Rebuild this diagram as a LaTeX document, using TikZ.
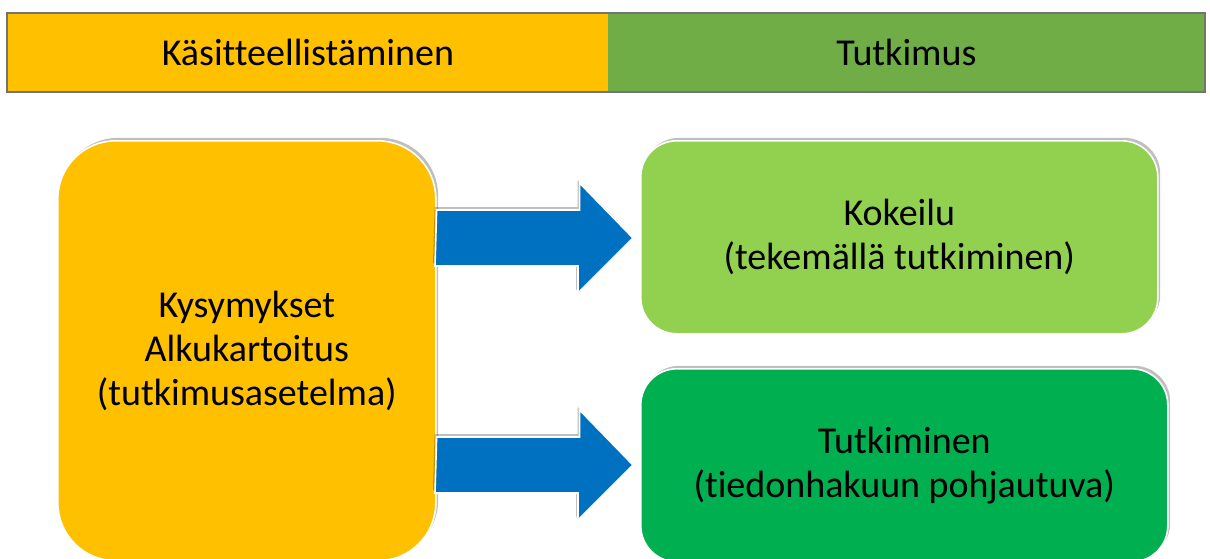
\documentclass[tikz,border=0pt]{standalone}
\usepackage{fontspec}
\setmainfont{Carlito}[Ligatures=NoCommon]
\usetikzlibrary{shadows,calc}

\definecolor{kasyellow}{HTML}{FFC000}
\definecolor{bargreen}{HTML}{70AD47}
\definecolor{lightgreen}{HTML}{92D050}
\definecolor{darkgreen}{HTML}{00B050}
\definecolor{arrowblue}{HTML}{0070C0}

\begin{document}
\begin{tikzpicture}[x=0.5pt,y=-0.5pt,
  txt/.style={font=\fontsize{19}{22}\selectfont, align=center, text=black},
  barcell/.style={txt, fill=#1, anchor=north west, inner sep=0pt, minimum height=39pt},
  box/.style={txt, fill=#1, draw=white, line width=0.8pt, anchor=north west, inner sep=0pt,
    drop shadow={shadow xshift=1.2pt, shadow yshift=1.5pt, opacity=0.25, fill=black}},
  bigarrow/.style={fill=arrowblue, draw=white, line width=0.8pt,
    drop shadow={shadow xshift=-1pt, shadow yshift=1.5pt, opacity=0.25, fill=black}}]
  \useasboundingbox (0,0) rectangle (1210,558);

  % Top bar
  \node[barcell=kasyellow, minimum width=300.5pt] (kas) at (7,13) {Käsitteellistäminen};
  \node[barcell=bargreen, minimum width=298pt] (tutk) at (608,13) {Tutkimus};
  \draw[gray!90!black, line width=1pt] (kas.north west) rectangle (tutk.south east);

  % Boxes
  \node[box=kasyellow, rounded corners=29pt, minimum width=189pt, minimum height=210pt] (kys) at (57,140)
    {Kysymykset\\Alkukartoitus\\(tutkimusasetelma)};
  \node[box=lightgreen, rounded corners=18pt, minimum width=258.5pt, minimum height=96.5pt] (kok) at (640,140)
    {Kokeilu\\(tekemällä tutkiminen)};
  \node[box=darkgreen, rounded corners=18pt, minimum width=263.5pt, minimum height=96.5pt] (tie) at (640,368)
    {Tutkiminen\\(tiedonhakuun pohjautuva)};

  % Arrows
  \coordinate (a1) at (kys.east |- 0,238);
  \coordinate (a2) at (kys.east |- 0,465);
  \foreach \src/\dst in {a1/kok, a2/tie}
    \draw[bigarrow] (\src) ++(0,-28) -- ++(143,0) -- ++(0,-27)
      -- ($(\dst.west |- \src)+(-7,0)$) -- ++(-55,55) -- ++(0,-27) -- ++(-143,0) -- cycle;
\end{tikzpicture}
\end{document}
